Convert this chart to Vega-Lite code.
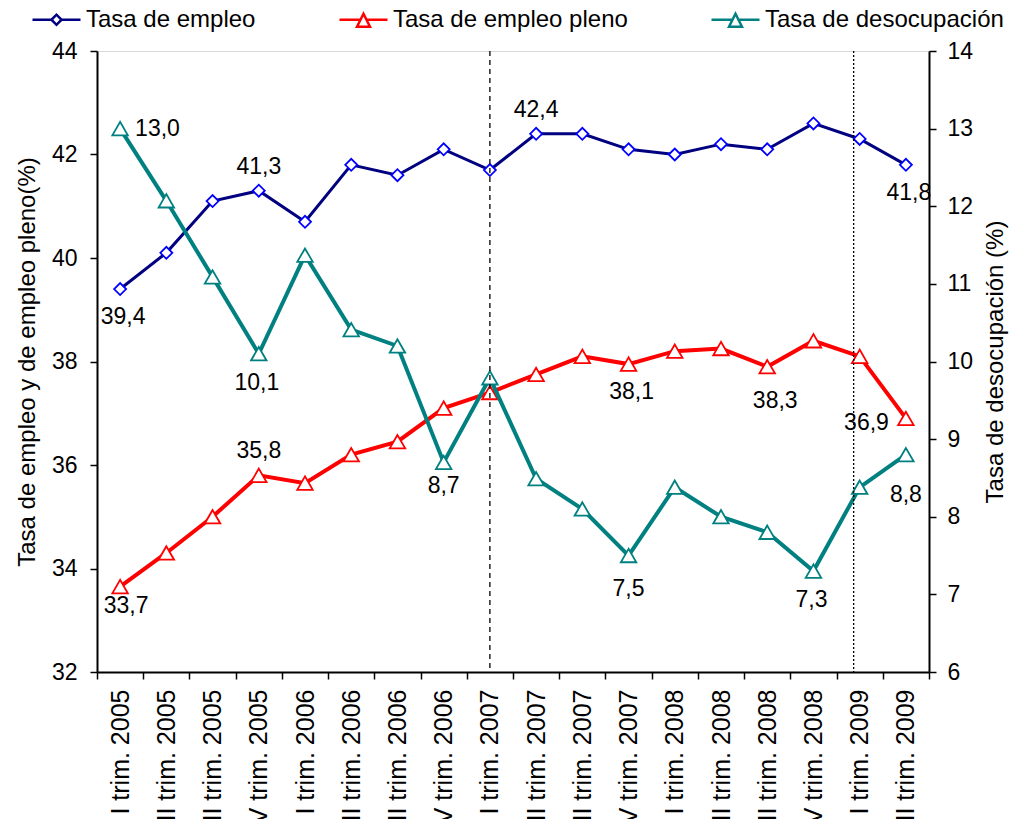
{
  "$schema": "https://vega.github.io/schema/vega-lite/v6.json",
  "width": 832,
  "height": 621,
  "autosize": {"type": "none"},
  "padding": {"left": 97, "top": 51, "right": 82, "bottom": 147},
  "background": "white",
  "config": {
    "font": "Liberation Sans",
    "view": {"stroke": "#d9d9d9", "strokeWidth": 1},
    "axis": {"labelColor": "#000", "titleColor": "#000", "domainColor": "#000", "tickColor": "#000", "grid": false, "titleFontWeight": "normal", "labelFont": "Liberation Sans", "titleFont": "Liberation Sans", "domainWidth": 2, "tickWidth": 1.5, "tickSize": 7},
    "text": {"font": "Liberation Sans", "fontSize": 23, "color": "#000", "baseline": "middle"}
  },
  "data": {"values": [
    {"trimestre": "I trim. 2005", "serie": "Tasa de empleo", "valor": 39.4, "etiqueta": "39,4"},
    {"trimestre": "II trim. 2005", "serie": "Tasa de empleo", "valor": 40.1},
    {"trimestre": "III trim. 2005", "serie": "Tasa de empleo", "valor": 41.1},
    {"trimestre": "IV trim. 2005", "serie": "Tasa de empleo", "valor": 41.3, "etiqueta": "41,3"},
    {"trimestre": "I trim. 2006", "serie": "Tasa de empleo", "valor": 40.7},
    {"trimestre": "II trim. 2006", "serie": "Tasa de empleo", "valor": 41.8},
    {"trimestre": "III trim. 2006", "serie": "Tasa de empleo", "valor": 41.6},
    {"trimestre": "IV trim. 2006", "serie": "Tasa de empleo", "valor": 42.1},
    {"trimestre": "I trim. 2007", "serie": "Tasa de empleo", "valor": 41.7},
    {"trimestre": "II trim. 2007", "serie": "Tasa de empleo", "valor": 42.4, "etiqueta": "42,4"},
    {"trimestre": "III trim. 2007", "serie": "Tasa de empleo", "valor": 42.4},
    {"trimestre": "IV trim. 2007", "serie": "Tasa de empleo", "valor": 42.1},
    {"trimestre": "I trim. 2008", "serie": "Tasa de empleo", "valor": 42.0},
    {"trimestre": "II trim. 2008", "serie": "Tasa de empleo", "valor": 42.2},
    {"trimestre": "III trim. 2008", "serie": "Tasa de empleo", "valor": 42.1},
    {"trimestre": "IV trim. 2008", "serie": "Tasa de empleo", "valor": 42.6},
    {"trimestre": "I trim. 2009", "serie": "Tasa de empleo", "valor": 42.3},
    {"trimestre": "II trim. 2009", "serie": "Tasa de empleo", "valor": 41.8, "etiqueta": "41,8"},
    {"trimestre": "I trim. 2005", "serie": "Tasa de empleo pleno", "valor": 33.65, "etiqueta": "33,7"},
    {"trimestre": "II trim. 2005", "serie": "Tasa de empleo pleno", "valor": 34.3},
    {"trimestre": "III trim. 2005", "serie": "Tasa de empleo pleno", "valor": 35.0},
    {"trimestre": "IV trim. 2005", "serie": "Tasa de empleo pleno", "valor": 35.8, "etiqueta": "35,8"},
    {"trimestre": "I trim. 2006", "serie": "Tasa de empleo pleno", "valor": 35.65},
    {"trimestre": "II trim. 2006", "serie": "Tasa de empleo pleno", "valor": 36.2},
    {"trimestre": "III trim. 2006", "serie": "Tasa de empleo pleno", "valor": 36.45},
    {"trimestre": "IV trim. 2006", "serie": "Tasa de empleo pleno", "valor": 37.1},
    {"trimestre": "I trim. 2007", "serie": "Tasa de empleo pleno", "valor": 37.4},
    {"trimestre": "II trim. 2007", "serie": "Tasa de empleo pleno", "valor": 37.75},
    {"trimestre": "III trim. 2007", "serie": "Tasa de empleo pleno", "valor": 38.1},
    {"trimestre": "IV trim. 2007", "serie": "Tasa de empleo pleno", "valor": 37.95, "etiqueta": "38,1"},
    {"trimestre": "I trim. 2008", "serie": "Tasa de empleo pleno", "valor": 38.2},
    {"trimestre": "II trim. 2008", "serie": "Tasa de empleo pleno", "valor": 38.25},
    {"trimestre": "III trim. 2008", "serie": "Tasa de empleo pleno", "valor": 37.9, "etiqueta": "38,3"},
    {"trimestre": "IV trim. 2008", "serie": "Tasa de empleo pleno", "valor": 38.4},
    {"trimestre": "I trim. 2009", "serie": "Tasa de empleo pleno", "valor": 38.1},
    {"trimestre": "II trim. 2009", "serie": "Tasa de empleo pleno", "valor": 36.9, "etiqueta": "36,9"},
    {"trimestre": "I trim. 2005", "serie": "Tasa de desocupación", "valor": 13.0, "etiqueta": "13,0"},
    {"trimestre": "II trim. 2005", "serie": "Tasa de desocupación", "valor": 12.07},
    {"trimestre": "III trim. 2005", "serie": "Tasa de desocupación", "valor": 11.09},
    {"trimestre": "IV trim. 2005", "serie": "Tasa de desocupación", "valor": 10.1, "etiqueta": "10,1"},
    {"trimestre": "I trim. 2006", "serie": "Tasa de desocupación", "valor": 11.37},
    {"trimestre": "II trim. 2006", "serie": "Tasa de desocupación", "valor": 10.41},
    {"trimestre": "III trim. 2006", "serie": "Tasa de desocupación", "valor": 10.2},
    {"trimestre": "IV trim. 2006", "serie": "Tasa de desocupación", "valor": 8.7, "etiqueta": "8,7"},
    {"trimestre": "I trim. 2007", "serie": "Tasa de desocupación", "valor": 9.79},
    {"trimestre": "II trim. 2007", "serie": "Tasa de desocupación", "valor": 8.49},
    {"trimestre": "III trim. 2007", "serie": "Tasa de desocupación", "valor": 8.1},
    {"trimestre": "IV trim. 2007", "serie": "Tasa de desocupación", "valor": 7.5, "etiqueta": "7,5"},
    {"trimestre": "I trim. 2008", "serie": "Tasa de desocupación", "valor": 8.38},
    {"trimestre": "II trim. 2008", "serie": "Tasa de desocupación", "valor": 8.0},
    {"trimestre": "III trim. 2008", "serie": "Tasa de desocupación", "valor": 7.8},
    {"trimestre": "IV trim. 2008", "serie": "Tasa de desocupación", "valor": 7.3, "etiqueta": "7,3"},
    {"trimestre": "I trim. 2009", "serie": "Tasa de desocupación", "valor": 8.38},
    {"trimestre": "II trim. 2009", "serie": "Tasa de desocupación", "valor": 8.8, "etiqueta": "8,8"}
  ]},
  "encoding": {
    "x": {
      "field": "trimestre", "type": "nominal",
      "scale": {"type": "band", "paddingInner": 0, "paddingOuter": 0, "domain": ["I trim. 2005", "II trim. 2005", "III trim. 2005", "IV trim. 2005", "I trim. 2006", "II trim. 2006", "III trim. 2006", "IV trim. 2006", "I trim. 2007", "II trim. 2007", "III trim. 2007", "IV trim. 2007", "I trim. 2008", "II trim. 2008", "III trim. 2008", "IV trim. 2008", "I trim. 2009", "II trim. 2009"]},
      "axis": {"title": null, "labelAngle": -90, "labelFontSize": 25, "labelPadding": 10, "tickBand": "extent", "labelOverlap": false, "labelLimit": 400}
    }
  },
  "layer": [
    {
      "encoding": {
        "y": {"field": "valor", "type": "quantitative", "scale": {"domain": [32, 44], "nice": false, "zero": false},
          "axis": {"orient": "left", "values": [32, 34, 36, 38, 40, 42, 44], "title": "Tasa de empleo y de empleo pleno(%)", "titleFontSize": 24, "labelFontSize": 23, "labelPadding": 13, "titlePadding": 12}}
      },
      "layer": [
        {
          "transform": [{"filter": {"field": "serie", "equal": "Tasa de empleo"}}],
          "mark": {"type": "line", "strokeWidth": 3},
          "encoding": {
            "color": {"field": "serie", "type": "nominal",
              "scale": {"domain": ["Tasa de empleo", "Tasa de empleo pleno", "Tasa de desocupación"], "range": ["#000080", "#FF0000", "#008080"]},
              "legend": {
                "orient": "none", "legendX": -66, "legendY": -57, "direction": "horizontal", "title": null,
                "symbolSize": 2304, "symbolStrokeWidth": 2.5, "labelFontSize": 24, "labelOffset": 4, "columnPadding": 78,
                "labelColor": "#000", "labelFont": "Liberation Sans", "padding": 0, "labelLimit": 400,
                "encode": {"symbols": {"update": {
                  "shape": {"signal": "datum.value === 'Tasa de empleo' ? 'M-1,0H-0.21M0.21,0H1M-0.21,0L0,-0.21L0.21,0L0,0.21Z' : 'M-1,0H-0.125M0.125,0H1M0,-0.25L0.27,0.29L-0.27,0.29Z'"},
                  "fill": {"value": "white"},
                  "opacity": {"value": 1}
                }}}
              }
            }
          }
        },
        {
          "transform": [{"filter": {"field": "serie", "equal": "Tasa de empleo pleno"}}],
          "mark": {"type": "line", "strokeWidth": 4},
          "encoding": {"color": {"field": "serie", "type": "nominal"}}
        },
        {
          "transform": [{"filter": {"field": "serie", "equal": "Tasa de empleo"}}],
          "mark": {"type": "point", "shape": "diamond", "size": 144, "filled": true, "fill": "white", "stroke": "#0000FF", "strokeWidth": 1.8, "opacity": 1}
        },
        {
          "transform": [{"filter": {"field": "serie", "equal": "Tasa de empleo pleno"}}],
          "mark": {"type": "point", "shape": "triangle-up", "size": 240, "filled": true, "fill": "white", "stroke": "#FF0000", "strokeWidth": 1.8, "opacity": 1}
        },
        {
          "transform": [{"filter": {"field": "etiqueta", "oneOf": ["41,3", "35,8", "42,4"]}}],
          "mark": {"type": "text", "dy": -24},
          "encoding": {"text": {"field": "etiqueta"}}
        },
        {
          "transform": [{"filter": {"field": "etiqueta", "oneOf": ["39,4", "38,1", "41,8"]}}],
          "mark": {"type": "text", "dy": 28, "dx": 3},
          "encoding": {"text": {"field": "etiqueta"}}
        },
        {
          "transform": [{"filter": {"field": "etiqueta", "oneOf": ["33,7"]}}],
          "mark": {"type": "text", "dy": 19, "dx": 6},
          "encoding": {"text": {"field": "etiqueta"}}
        },
        {
          "transform": [{"filter": {"field": "etiqueta", "oneOf": ["38,3"]}}],
          "mark": {"type": "text", "dy": 34, "dx": 8},
          "encoding": {"text": {"field": "etiqueta"}}
        },
        {
          "transform": [{"filter": {"field": "etiqueta", "oneOf": ["36,9"]}}],
          "mark": {"type": "text", "dy": 5, "dx": -17, "align": "right"},
          "encoding": {"text": {"field": "etiqueta"}}
        }
      ]
    },
    {
      "encoding": {
        "y": {"field": "valor", "type": "quantitative", "scale": {"domain": [6, 14], "nice": false, "zero": false},
          "axis": {"orient": "right", "values": [6, 7, 8, 9, 10, 11, 12, 13, 14], "title": "Tasa de desocupación (%)", "titleFontSize": 24, "labelFontSize": 23, "labelPadding": 11, "titlePadding": 11, "titleAngle": -90, "titleBaseline": "top"}}
      },
      "layer": [
        {
          "transform": [{"filter": {"field": "serie", "equal": "Tasa de desocupación"}}],
          "mark": {"type": "line", "strokeWidth": 4},
          "encoding": {"color": {"field": "serie", "type": "nominal"}}
        },
        {
          "transform": [{"filter": {"field": "serie", "equal": "Tasa de desocupación"}}],
          "mark": {"type": "point", "shape": "triangle-up", "size": 240, "filled": true, "fill": "white", "stroke": "#008080", "strokeWidth": 1.8, "opacity": 1}
        },
        {
          "transform": [{"filter": {"field": "etiqueta", "oneOf": ["13,0"]}}],
          "mark": {"type": "text", "dx": 15, "align": "left"},
          "encoding": {"text": {"field": "etiqueta"}}
        },
        {
          "transform": [{"filter": {"field": "etiqueta", "oneOf": ["10,1", "7,3"]}}],
          "mark": {"type": "text", "dy": 29, "dx": -2},
          "encoding": {"text": {"field": "etiqueta"}}
        },
        {
          "transform": [{"filter": {"field": "etiqueta", "oneOf": ["8,7"]}}],
          "mark": {"type": "text", "dy": 24},
          "encoding": {"text": {"field": "etiqueta"}}
        },
        {
          "transform": [{"filter": {"field": "etiqueta", "oneOf": ["7,5"]}}],
          "mark": {"type": "text", "dy": 33},
          "encoding": {"text": {"field": "etiqueta"}}
        },
        {
          "transform": [{"filter": {"field": "etiqueta", "oneOf": ["8,8"]}}],
          "mark": {"type": "text", "dy": 40},
          "encoding": {"text": {"field": "etiqueta"}}
        }
      ]
    },
    {
      "data": {"values": [{"trimestre": "I trim. 2007"}]},
      "mark": {"type": "rule", "strokeDash": [5, 4], "strokeWidth": 1.3, "color": "#000"},
      "encoding": {"x": {"field": "trimestre", "type": "nominal"}}
    },
    {
      "data": {"values": [{"trimestre": "I trim. 2009"}]},
      "mark": {"type": "rule", "strokeDash": [2, 2], "strokeWidth": 1.3, "color": "#000"},
      "encoding": {"x": {"field": "trimestre", "type": "nominal", "bandPosition": 0.37}}
    }
  ],
  "resolve": {"scale": {"y": "independent"}}
}
